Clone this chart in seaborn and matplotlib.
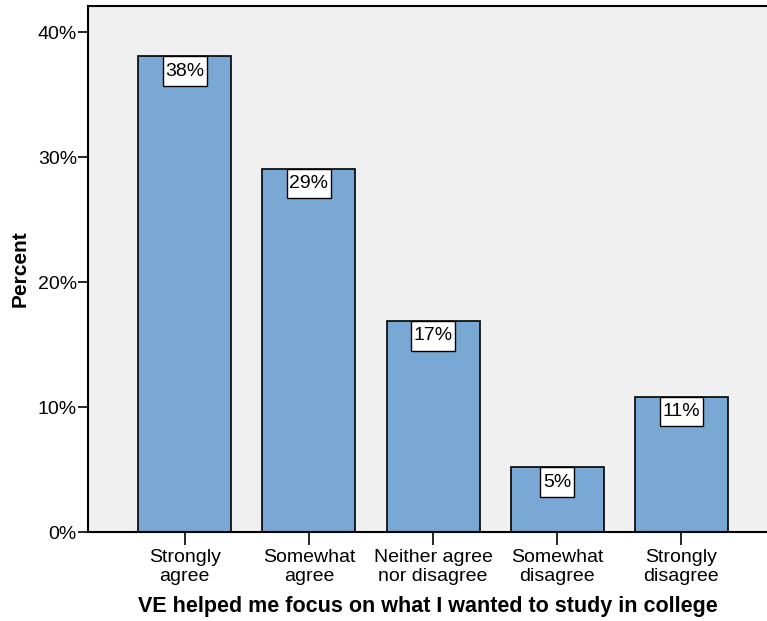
import numpy as np
import pandas as pd
import matplotlib.pyplot as plt
import seaborn as sns
from matplotlib.path import Path

categories = ["Strongly\nagree", "Somewhat\nagree", "Neither agree\nnor disagree",
              "Somewhat\ndisagree", "Strongly\ndisagree"]
percent = [38.06, 29.09, 16.9, 5.18, 10.84]
labels = ["38%", "29%", "17%", "5%", "11%"]

df = pd.DataFrame({"response": categories, "percent": percent})

sns.set_style("ticks")
plt.rcParams['font.family'] = ['Liberation Sans', 'DejaVu Sans']
plt.rcParams['text.color'] = 'black'
plt.rcParams['xtick.color'] = 'black'
plt.rcParams['ytick.color'] = 'black'
plt.rcParams['axes.labelcolor'] = 'black'


# label box: little side padding, more above and below
def tall_box(x0, y0, width, height, mutation_size):
    px = 0.14 * mutation_size
    py = 0.33 * mutation_size
    return Path([(x0 - px, y0 - py), (x0 + width + px, y0 - py),
                 (x0 + width + px, y0 + height + py), (x0 - px, y0 + height + py),
                 (x0 - px, y0 - py)], closed=True)


fig = plt.figure(figsize=(7.67, 6.21), dpi=100)
ax = fig.add_axes([0.1147, 0.1433, 0.8853, 0.8470])
ax.set_facecolor("#F0F0F0")

sns.barplot(data=df, x="response", y="percent", color="#79A8D5", saturation=1,
            width=0.75, edgecolor="black", linewidth=1.2, ax=ax)

for i, (v, lab) in enumerate(zip(percent, labels)):
    ax.annotate(lab, (i, v), xytext=(0, -4.6), textcoords="offset points",
                ha="center", va="top", fontsize=14,
                bbox=dict(boxstyle=tall_box, fc="white", ec="black", lw=1))

ax.set_xlim(-0.78, 4.69)
ax.set_ylim(0, 42.1)
ax.set_yticks([0, 10, 20, 30, 40])
ax.set_yticklabels(["0%", "10%", "20%", "30%", "40%"])
ax.tick_params(axis="both", labelsize=14, length=7, width=1.2, color="black", pad=1)
ax.tick_params(axis="x", length=9, pad=3)

for side in ["left", "bottom", "top"]:
    ax.spines[side].set_linewidth(1.5)
    ax.spines[side].set_color("black")
ax.spines["right"].set_visible(False)

ax.set_ylabel("Percent", fontsize=15, fontweight="bold", labelpad=6)
ax.set_xlabel("VE helped me focus on what I wanted to study in college",
              fontsize=15.5, fontweight="bold", labelpad=8)

fig.savefig("out.png", dpi=100)
